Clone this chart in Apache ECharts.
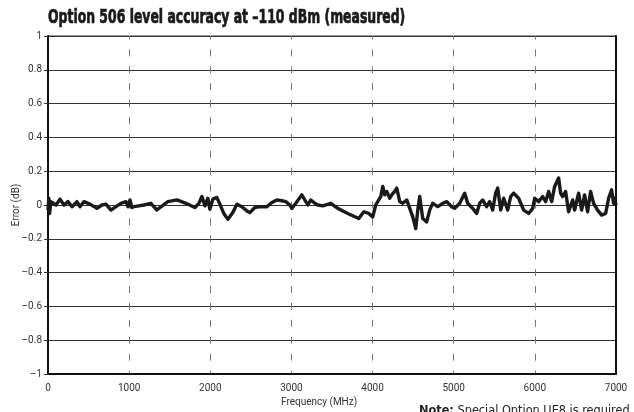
<!DOCTYPE html>
<html>
<head>
<meta charset="utf-8">
<script src="https://cdn.jsdelivr.net/npm/echarts@6/dist/echarts.min.js"></script>
<style>
html,body{margin:0;padding:0;background:#fff;}
#chart{width:634px;height:412px;}
</style>
</head>
<body>
<div id="chart"></div>
<script>
var titleText = 'Option 506 level accuracy at \u2013110 dBm (measured)';
var xAxisName = 'Frequency (MHz)';
var yAxisName = 'Error (dB)';
var noteBold = 'Note:';
var noteRest = ' Special Option UE8 is required';
var xTicks = [0, 1000, 2000, 3000, 4000, 5000, 6000, 7000];
var yTicks = [-1, -0.8, -0.6, -0.4, -0.2, 0, 0.2, 0.4, 0.6, 0.8, 1];

var freqs = [0, 10, 20, 35, 49, 99, 148, 197, 246, 296, 357, 394, 443, 517, 603, 665, 714, 776, 837, 899, 961, 985, 1010, 1034, 1059, 1121, 1182, 1268, 1342, 1379, 1478, 1589, 1700, 1810, 1860, 1897, 1933, 1970, 1995, 2032, 2081, 2118, 2167, 2217, 2278, 2328, 2389, 2451, 2488, 2549, 2611, 2697, 2759, 2820, 2882, 2931, 2980, 3005, 3054, 3128, 3202, 3239, 3288, 3325, 3387, 3485, 3571, 3695, 3830, 3892, 3953, 4002, 4039, 4076, 4101, 4126, 4150, 4175, 4212, 4236, 4273, 4298, 4335, 4372, 4421, 4458, 4495, 4532, 4557, 4581, 4618, 4667, 4704, 4741, 4803, 4865, 4914, 4975, 5012, 5074, 5135, 5172, 5234, 5283, 5320, 5357, 5406, 5443, 5480, 5517, 5542, 5579, 5616, 5665, 5702, 5739, 5800, 5862, 5924, 5973, 5998, 6047, 6096, 6133, 6170, 6207, 6244, 6293, 6318, 6342, 6379, 6416, 6466, 6490, 6539, 6576, 6613, 6650, 6687, 6724, 6773, 6823, 6872, 6909, 6946, 6970, 6983, 7000];
var errors = [-0.03, 0.04, -0.05, 0.02, 0.03, 0.0, 0.035, 0.0, 0.02, -0.01, 0.02, -0.01, 0.02, 0.005, -0.02, 0.0, 0.005, -0.03, -0.01, 0.01, 0.02, -0.01, 0.03, -0.015, -0.01, -0.005, 0.0, 0.01, -0.03, -0.015, 0.02, 0.03, 0.01, -0.015, 0.01, 0.05, -0.005, 0.04, -0.025, 0.035, 0.045, 0.005, -0.05, -0.085, -0.045, 0.005, -0.01, -0.035, -0.045, -0.015, -0.01, -0.01, 0.015, 0.03, 0.025, 0.02, 0.0, -0.02, 0.01, 0.06, 0.0, 0.03, 0.01, 0.0, -0.005, 0.01, -0.02, -0.05, -0.08, -0.04, -0.05, -0.07, 0.0, 0.03, 0.05, 0.11, 0.06, 0.08, 0.04, 0.06, 0.08, 0.10, 0.02, 0.01, 0.03, -0.02, -0.07, -0.14, -0.03, 0.05, -0.08, -0.10, -0.03, 0.01, -0.01, 0.01, 0.02, -0.01, -0.02, 0.01, 0.07, 0.01, -0.02, -0.05, 0.01, 0.03, -0.01, 0.02, -0.03, 0.07, 0.10, -0.03, 0.04, -0.03, 0.05, 0.07, 0.04, -0.03, -0.05, -0.02, 0.04, 0.02, 0.05, 0.02, 0.08, 0.02, 0.11, 0.16, 0.07, 0.05, 0.08, -0.04, 0.03, -0.03, 0.07, -0.03, 0.06, -0.04, 0.08, 0.01, -0.03, -0.06, -0.05, 0.04, 0.09, 0.01, 0.04, 0.0];

var FONT = "'DejaVu Sans Condensed', 'Liberation Sans Narrow', sans-serif";
var LFONT = "'Roboto', 'Liberation Sans', sans-serif";

function fmtY(v) {
  var r = Math.round(v * 10) / 10;
  if (Math.abs(r) < 1e-9) return '0';
  return (r < 0 ? '\u2013' : '') + String(Math.abs(r));
}
function fmtX(v) { return String(Math.round(v)); }

var seriesData = freqs.map(function (f, i) { return [f, errors[i]]; });

var chart = echarts.init(document.getElementById('chart'), null, {renderer: 'canvas'});
chart.setOption({
  backgroundColor: '#fff',
  animation: false,
  grid: {left: 48, right: 18, top: 36, bottom: 38, show: true, borderColor: '#333', borderWidth: 1},
  xAxis: {
    type: 'value',
    min: xTicks[0],
    max: xTicks[xTicks.length - 1],
    interval: 1000,
    axisLine: {show: true, onZero: false, lineStyle: {color: '#111', width: 2}},
    axisTick: {show: false},
    axisLabel: {fontFamily: LFONT, fontSize: 10, color: '#333', margin: 9, formatter: fmtX},
    splitLine: {show: true, lineStyle: {color: '#777', width: 1, type: [7, 9.9], dashOffset: 3.5}}
  },
  yAxis: [{
    type: 'value',
    min: yTicks[0],
    max: yTicks[yTicks.length - 1],
    interval: 0.2,
    axisLine: {show: true, onZero: false, lineStyle: {color: '#111', width: 2}},
    axisTick: {show: true, length: 4, lineStyle: {color: '#333', width: 1}},
    axisLabel: {fontFamily: LFONT, fontSize: 10, color: '#333', margin: 6, formatter: fmtY},
    splitLine: {show: true, lineStyle: {color: '#333', width: 1}}
  }, {
    type: 'value',
    position: 'right',
    min: -1, max: 1, interval: 0.2,
    axisLine: {show: true, onZero: false, lineStyle: {color: '#111', width: 2}},
    axisTick: {show: false},
    axisLabel: {show: false},
    splitLine: {show: false}
  }],
  graphic: [
    {type: 'text', x: 48, y: 9, scaleX: 0.727, style: {text: titleText, fontFamily: FONT, fontWeight: 'bold', fontSize: 19, fill: '#1a1a1a', stroke: '#1a1a1a', lineWidth: 0.7}},
    {type: 'text', left: 281, top: 397, style: {text: xAxisName, fontFamily: LFONT, fontSize: 10, fill: '#333'}},
    {type: 'text', x: 16, y: 205, rotation: Math.PI / 2, style: {text: yAxisName, fontFamily: LFONT, fontSize: 10, fill: '#333', textAlign: 'center', textVerticalAlign: 'middle'}},
    {type: 'text', x: 419, y: 404, style: {
      text: '{b|' + noteBold + '}{r|' + noteRest + '}',
      rich: {
        b: {fontFamily: FONT, fontSize: 12.6, fontWeight: 'bold', fill: '#222'},
        r: {fontFamily: FONT, fontSize: 12.6, fill: '#222'}
      }
    }}
  ],
  series: [{
    type: 'line',
    data: seriesData,
    showSymbol: false,
    symbol: 'none',
    lineStyle: {color: '#1a1a1a', width: 3.4, join: 'round'},
    z: 5
  }]
});
</script>
</body>
</html>
